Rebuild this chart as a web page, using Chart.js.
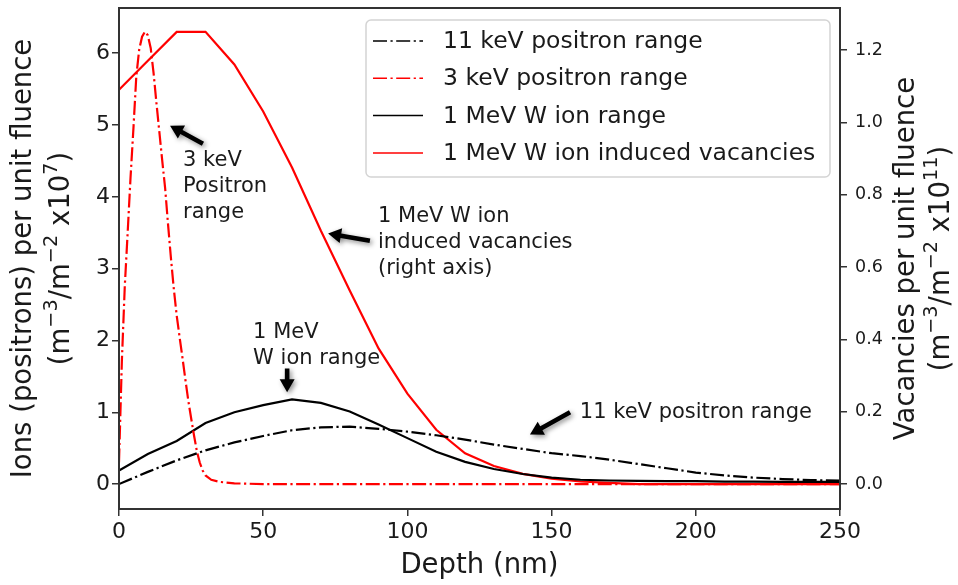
<!DOCTYPE html>
<html>
<head>
<meta charset="utf-8">
<script src="https://cdn.jsdelivr.net/npm/chart.js@4.4.1/dist/chart.umd.min.js"></script>
<style>
  html, body { margin: 0; padding: 0; background: #fff; }
  canvas { display: block; }
</style>
</head>
<body>
<canvas id="depthChart" width="958" height="585"></canvas>
<script>
// depth grid (nm) for the 11 keV positron and the W ion profiles
const depth = [0, 10, 20, 30, 40, 50, 60, 70, 80, 90, 100, 110, 120, 130, 140, 150, 160, 170, 180, 190, 200, 210, 220, 230, 240, 250];
const pos11 = [0.00, 0.17, 0.33, 0.47, 0.58, 0.67, 0.75, 0.79, 0.80, 0.77, 0.73, 0.68, 0.62, 0.55, 0.49, 0.43, 0.39, 0.34, 0.28, 0.22, 0.16, 0.12, 0.09, 0.07, 0.055, 0.05];
const ionW = [0.19, 0.42, 0.60, 0.85, 1.00, 1.10, 1.18, 1.13, 1.01, 0.83, 0.64, 0.45, 0.31, 0.21, 0.14, 0.09, 0.06, 0.05, 0.045, 0.04, 0.04, 0.035, 0.035, 0.03, 0.03, 0.03];
const vacW = [1.09, 1.17, 1.25, 1.25, 1.16, 1.03, 0.875, 0.70, 0.535, 0.375, 0.25, 0.15, 0.085, 0.05, 0.028, 0.015, 0.007, 0.003, 0, 0, 0, 0, 0, 0, 0, 0];

// 3 keV positrons stop close to the surface, so a finer grid there
const depth3 = [0, 1, 2, 3, 4, 5, 6, 7, 8, 9, 10, 11, 12, 13, 14, 15, 16, 17, 18, 19, 20, 21, 22, 23, 24, 25, 26, 27, 28, 29, 30, 32, 35, 40, 50, 100, 150, 200, 250];
const pos3 = [0.30, 1.72, 2.75, 3.50, 4.27, 4.95, 5.68, 6.05, 6.23, 6.30, 6.25, 6.07, 5.72, 5.30, 4.90, 4.50, 4.12, 3.62, 3.15, 2.72, 2.35, 2.05, 1.76, 1.46, 1.17, 0.92, 0.68, 0.46, 0.30, 0.19, 0.12, 0.06, 0.03, 0.01, 0, 0, 0, 0, 0];

const xTicks = [0, 50, 100, 150, 200, 250];
const leftTicks = [0, 1, 2, 3, 4, 5, 6];
const rightTicks = [0, 0.2, 0.4, 0.6, 0.8, 1.0, 1.2];

const FONT = "'DejaVu Sans', sans-serif";
const DASH_DOT = [14, 3.5, 2.2, 3.5];

const pts = (xs, ys) => xs.map((x, i) => ({ x: x, y: ys[i] }));

// text callouts: first line position in data units (left axis), arrow tail -> tip
const notes = [
  { lines: ['3 keV', 'Positron', 'range'], at: [22.2, 4.50], tail: [29.1, 4.74], tip: [17.7, 4.99] },
  { lines: ['1 MeV W ion', 'induced vacancies', '(right axis)'], at: [89.8, 3.72], tail: [87.0, 3.39], tip: [72.5, 3.49] },
  { lines: ['1 MeV', 'W ion range'], at: [46.5, 2.11], tail: [58.3, 1.61], tip: [58.3, 1.28] },
  { lines: ['11 keV positron range'], at: [159.8, 0.99], tail: [156.4, 1.00], tip: [142.5, 0.69] }
];

function drawRich(ctx, parts, size) {
  // parts drawn centred on (0,0); superscripts smaller and raised
  let total = 0;
  parts.forEach(p => {
    ctx.font = (p.sup ? size * 0.7 : size) + 'px ' + FONT;
    p.w = ctx.measureText(p.t).width;
    total += p.w;
  });
  let x = -total / 2;
  parts.forEach(p => {
    ctx.font = (p.sup ? size * 0.7 : size) + 'px ' + FONT;
    ctx.fillText(p.t, x, p.sup ? -size * 0.36 : 0);
    x += p.w;
  });
}

function drawArrow(ctx, x0, y0, x1, y1) {
  const ang = Math.atan2(y1 - y0, x1 - x0);
  const len = Math.hypot(x1 - x0, y1 - y0);
  const head = 13, hw = 7.5, sw = 2.3;
  ctx.save();
  ctx.translate(x0, y0);
  ctx.rotate(ang);
  ctx.shadowColor = 'rgba(0,0,0,0.45)';
  ctx.shadowBlur = 5;
  ctx.shadowOffsetX = 2;
  ctx.shadowOffsetY = 2;
  ctx.fillStyle = '#000';
  ctx.beginPath();
  ctx.moveTo(0, -sw);
  ctx.lineTo(len - head, -sw);
  ctx.lineTo(len - head, -hw);
  ctx.lineTo(len, 0);
  ctx.lineTo(len - head, hw);
  ctx.lineTo(len - head, sw);
  ctx.lineTo(0, sw);
  ctx.closePath();
  ctx.fill();
  ctx.restore();
}

const decorations = {
  id: 'decorations',
  afterDatasetsDraw(chart) {
    const { ctx, chartArea: a } = chart;
    ctx.save();
    ctx.strokeStyle = '#333';
    ctx.lineWidth = 2;
    ctx.strokeRect(a.left, a.top, a.right - a.left, a.bottom - a.top);
    ctx.restore();
  },
  afterDraw(chart) {
    const { ctx, chartArea: a, scales } = chart;
    const xs = scales.x, yl = scales.yL;
    ctx.save();
    ctx.fillStyle = '#1a1a1a';
    ctx.textBaseline = 'middle';
    ctx.textAlign = 'left';

    // axis titles
    const cy = (a.top + a.bottom) / 2;
    ctx.font = '27.5px ' + FONT;
    ctx.textAlign = 'center';
    ctx.fillText('Depth (nm)', (a.left + a.right) / 2, 566);
    ctx.textAlign = 'left';

    const leftTitle = [
      [{ t: 'Ions (positrons) per unit fluence' }],
      [{ t: '(m' }, { t: '−3', sup: true }, { t: '/m' }, { t: '−2', sup: true }, { t: ' x10' }, { t: '7', sup: true }, { t: ')' }]
    ];
    const rightTitle = [
      [{ t: 'Vacancies per unit fluence' }],
      [{ t: '(m' }, { t: '−3', sup: true }, { t: '/m' }, { t: '−2', sup: true }, { t: ' x10' }, { t: '11', sup: true }, { t: ')' }]
    ];
    [[leftTitle, [24, 62]], [rightTitle, [907, 942]]].forEach(([title, xpos]) => {
      title.forEach((parts, i) => {
        ctx.save();
        ctx.translate(xpos[i], cy);
        ctx.rotate(-Math.PI / 2);
        drawRich(ctx, parts, 27.5);
        ctx.restore();
      });
    });

    // callouts
    ctx.font = '21px ' + FONT;
    notes.forEach(n => {
      const tx = xs.getPixelForValue(n.at[0]);
      const ty = yl.getPixelForValue(n.at[1]);
      n.lines.forEach((s, i) => ctx.fillText(s, tx, ty + i * 26));
      drawArrow(ctx,
        xs.getPixelForValue(n.tail[0]), yl.getPixelForValue(n.tail[1]),
        xs.getPixelForValue(n.tip[0]), yl.getPixelForValue(n.tip[1]));
    });

    // legend box
    const bx = 366, by = 20, bw = 464, bh = 157;
    ctx.beginPath();
    ctx.roundRect(bx, by, bw, bh, 5);
    ctx.fillStyle = 'rgba(255,255,255,0.85)';
    ctx.fill();
    ctx.strokeStyle = '#d4d4d4';
    ctx.lineWidth = 1.5;
    ctx.stroke();
    ctx.font = '23.5px ' + FONT;
    chart.data.datasets.forEach((ds, i) => {
      const y = 41 + i * 37.3;
      ctx.save();
      ctx.strokeStyle = ds.borderColor;
      ctx.lineWidth = ds.borderWidth;
      ctx.setLineDash(ds.borderDash || []);
      ctx.beginPath();
      ctx.moveTo(373, y);
      ctx.lineTo(423, y);
      ctx.stroke();
      ctx.restore();
      ctx.fillStyle = '#1a1a1a';
      ctx.fillText(ds.label, 443, y + 1);
    });
    ctx.restore();
  }
};

// no extra room reserved for overhanging tick labels
const noPad = s => { s.paddingTop = 0; s.paddingBottom = 0; s.paddingLeft = 0; s.paddingRight = 0; };

const axisStyle = {
  grid: { drawOnChartArea: false, drawTicks: true, tickLength: 7, color: '#333', lineWidth: 1.5 },
  border: { display: false }
};

new Chart(document.getElementById('depthChart'), {
  type: 'line',
  data: {
    datasets: [
      { label: '11 keV positron range', data: pts(depth, pos11), borderColor: '#000000', borderDash: DASH_DOT, yAxisID: 'yL' },
      { label: '3 keV positron range', data: pts(depth3, pos3), borderColor: '#ff0000', borderDash: DASH_DOT, yAxisID: 'yL' },
      { label: '1 MeV W ion range', data: pts(depth, ionW), borderColor: '#000000', yAxisID: 'yL' },
      { label: '1 MeV W ion induced vacancies', data: pts(depth, vacW), borderColor: '#ff0000', yAxisID: 'yR' }
    ]
  },
  options: {
    responsive: false,
    animation: false,
    layout: { padding: { top: 8, left: 0, right: 0, bottom: 0 } },
    elements: {
      point: { radius: 0 },
      line: { borderWidth: 2.2, tension: 0, borderCapStyle: 'butt', fill: false }
    },
    plugins: { legend: { display: false }, tooltip: { enabled: false } },
    scales: {
      x: {
        type: 'linear', position: 'bottom', min: 0, max: 250,
        ...axisStyle,
        ticks: { font: { family: FONT, size: 22 }, color: '#1a1a1a', padding: 3, maxRotation: 0, autoSkip: false },
        afterBuildTicks: s => { s.ticks = xTicks.map(v => ({ value: v })); },
        afterFit: s => { s.height = 76; noPad(s); }
      },
      yL: {
        type: 'linear', position: 'left', min: -0.347, max: 6.63,
        ...axisStyle,
        ticks: { font: { family: FONT, size: 22 }, color: '#1a1a1a', padding: 2 },
        afterBuildTicks: s => { s.ticks = leftTicks.map(v => ({ value: v })); },
        afterFit: s => { s.width = 119; noPad(s); }
      },
      yR: {
        type: 'linear', position: 'right', min: -0.069, max: 1.316,
        ...axisStyle,
        ticks: { font: { family: FONT, size: 17.5 }, color: '#1a1a1a', padding: 8, callback: v => v.toFixed(1) },
        afterBuildTicks: s => { s.ticks = rightTicks.map(v => ({ value: v })); },
        afterFit: s => { s.width = 118; noPad(s); }
      }
    }
  },
  plugins: [decorations]
});
</script>
</body>
</html>
